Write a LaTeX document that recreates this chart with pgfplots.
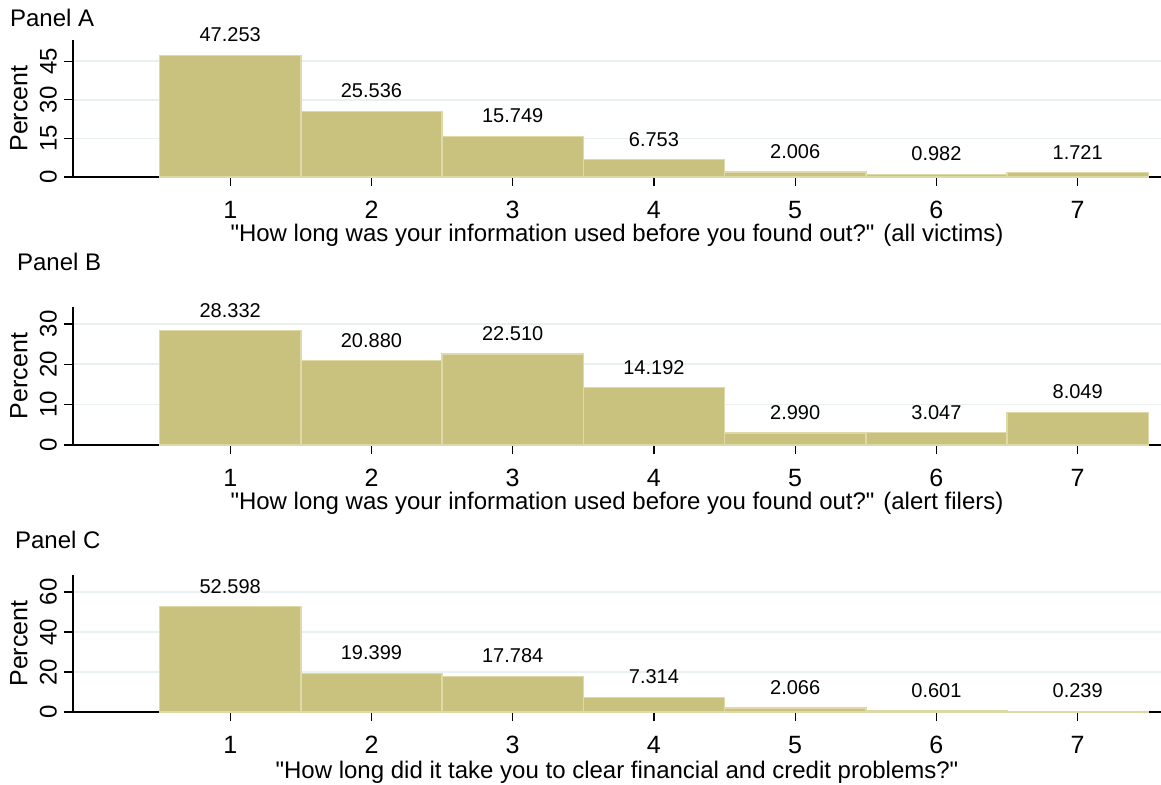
\documentclass[border=0pt]{standalone}
\usepackage{fontspec}
\setmainfont{Liberation Sans}
\usepackage{pgfplots}
\pgfplotsset{compat=1.18}
\definecolor{barfill}{RGB}{201,194,127}
\definecolor{barline}{RGB}{222,217,166}
\definecolor{gridc}{RGB}{232,240,242}
\pgfplotsset{
  panel/.style={
    scale only axis,
    width=544pt,
    xmin=-0.113, xmax=7.59,
    ymin=0,
    axis x line*=bottom,
    axis y line*=left,
    axis line style={black, line width=0.6pt},
    tick align=outside,
    major tick length=4.5pt,
    tick style={black, line width=0.6pt},
    xtick={1,2,3,4,5,6,7},
    x tick label style={font=\fontsize{12.5}{14}\selectfont, yshift=-4pt},
    y tick label style={font=\fontsize{12}{14}\selectfont, rotate=90, anchor=south},
    /pgf/number format/assume math mode=true,
    ymajorgrids,
    grid style={gridc, line width=0.8pt},
    ylabel={Percent},
    ylabel style={font=\fontsize{12.5}{14}\selectfont, at={(axis description cs:0,0.5)}, anchor=center, yshift=27pt},
    xlabel style={font=\fontsize{12}{14}\selectfont},
    ybar, bar width=1, bar shift=0,
    point meta=explicit symbolic,
    nodes near coords,
    every node near coord/.append style={font=\fontsize{10}{12}\selectfont, yshift=3pt},
    clip=false,
  },
  barsty/.style={fill=barfill, draw=barline, line width=0.7pt},
}
\begin{document}
\begin{tikzpicture}
\path[use as bounding box] (0,0) rectangle (580.5pt,-392.5pt);
% Panel A
\begin{axis}[panel, at={(36.5pt,-88.5pt)}, anchor=south west, height=68.5pt,
  ymax=53.2, ytick={0,15,30,45},
  xlabel={\textquotedbl How long was your information used before you found out?\textquotedbl{} (all victims)},
  xlabel style={yshift=4pt}]
\addplot[barsty] coordinates {(1,47.253) [47.253] (2,25.536) [25.536] (3,15.749) [15.749] (4,6.753) [6.753] (5,2.006) [2.006] (6,0.982) [0.982] (7,1.721) [1.721]};
\end{axis}
\node[anchor=west, font=\fontsize{12}{14}\selectfont] at (1.5pt,-9pt) {Panel A};
% Panel B
\begin{axis}[panel, at={(36.5pt,-222.5pt)}, anchor=south west, height=69pt,
  ymax=34.2, ytick={0,10,20,30},
  xlabel={\textquotedbl How long was your information used before you found out?\textquotedbl{} (alert filers)},
  xlabel style={yshift=4pt}]
\addplot[barsty] coordinates {(1,28.332) [28.332] (2,20.880) [20.880] (3,22.510) [22.510] (4,14.192) [14.192] (5,2.990) [2.990] (6,3.047) [3.047] (7,8.049) [8.049]};
\end{axis}
\node[anchor=west, font=\fontsize{12}{14}\selectfont] at (5pt,-131pt) {Panel B};
% Panel C
\begin{axis}[panel, at={(36.5pt,-356pt)}, anchor=south west, height=68.5pt,
  ymax=68.5, ytick={0,20,40,60},
  xlabel={\textquotedbl How long did it take you to clear financial and credit problems?\textquotedbl},
  xlabel style={yshift=3pt}]
\addplot[barsty] coordinates {(1,52.598) [52.598] (2,19.399) [19.399] (3,17.784) [17.784] (4,7.314) [7.314] (5,2.066) [2.066] (6,0.601) [0.601] (7,0.239) [0.239]};
\end{axis}
\node[anchor=west, font=\fontsize{12}{14}\selectfont] at (4pt,-270pt) {Panel C};
\end{tikzpicture}
\end{document}
